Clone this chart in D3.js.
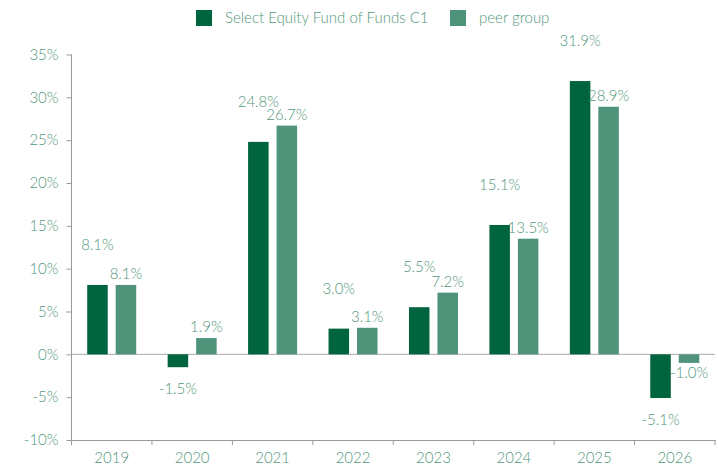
<!DOCTYPE html>
<html>
<head>
<meta charset="utf-8">
<script src="https://cdn.jsdelivr.net/npm/d3@7"></script>
<style>
  body { margin: 0; background: #fff; }
  text { font-family: Lato, "Open Sans", sans-serif; font-weight: 300; fill: #52977b; }
</style>
</head>
<body>
<div id="chart"></div>
<script>
var years = ["2019", "2020", "2021", "2022", "2023", "2024", "2025", "2026"];
var fund = [8.1, -1.5, 24.8, 3.0, 5.5, 15.1, 31.9, -5.1];
var peer = [8.1, 1.9, 26.7, 3.1, 7.2, 13.5, 28.9, -1.0];
var seriesNames = ["Select Equity Fund of Funds C1", "peer group"];
var yTicks = [-10, -5, 0, 5, 10, 15, 20, 25, 30, 35];

var colors = ["#00643f", "#4f937a"];

var margin = {top: 54.5, right: 3, bottom: 27, left: 71.5},
    width = 718 - margin.left - margin.right,
    height = 467 - margin.top - margin.bottom;

var svg = d3.select("#chart")
  .append("svg")
    .attr("width", 718)
    .attr("height", 467)
  .append("g")
    .attr("transform", "translate(" + margin.left + "," + margin.top + ")");

var x = d3.scaleBand()
  .domain(years)
  .range([0, width]);

var x1 = d3.scaleBand()
  .domain([0, 1])
  .range([x.bandwidth() / 2 - 24.5, x.bandwidth() / 2 + 24.5])
  .paddingInner(0.28);

var y = d3.scaleLinear()
  .domain([-10, 35])
  .range([height, 0]);

// y axis
var yAxis = svg.append("g")
  .call(d3.axisLeft(y).tickValues(yTicks).tickSize(5).tickPadding(8)
    .tickFormat(function(d) { return d + "%"; }));
yAxis.selectAll("line").attr("stroke", "#999");
yAxis.select(".domain").attr("stroke", "#999").attr("d", "M0," + height + "V0");
yAxis.selectAll("text").style("font-size", "15px").attr("fill", "#52977b");

// x axis
var xAxis = svg.append("g")
  .attr("transform", "translate(0," + height + ")")
  .call(d3.axisBottom(x).tickSize(0).tickPadding(12));
xAxis.select(".domain").attr("stroke", "#999");
xAxis.selectAll("text").style("font-size", "15px").attr("fill", "#52977b");
xAxis.selectAll(".sep")
  .data(years.concat(["end"]))
  .enter()
  .append("line")
    .attr("class", "sep")
    .attr("x1", function(d, i) { return i * x.step(); })
    .attr("x2", function(d, i) { return i * x.step(); })
    .attr("y1", 0)
    .attr("y2", 5)
    .attr("stroke", "#999");

// zero line
svg.append("line")
  .attr("x1", 0)
  .attr("x2", width)
  .attr("y1", y(0))
  .attr("y2", y(0))
  .attr("stroke", "#aaa");

var rows = [];
years.forEach(function(yr, i) {
  rows.push({year: yr, s: 0, v: fund[i]});
  rows.push({year: yr, s: 1, v: peer[i]});
});

svg.selectAll("rect.bar")
  .data(rows)
  .enter()
  .append("rect")
    .attr("class", "bar")
    .attr("x", function(d) { return x(d.year) + x1(d.s); })
    .attr("width", x1.bandwidth())
    .attr("y", function(d) { return y(Math.max(0, d.v)); })
    .attr("height", function(d) { return Math.abs(y(d.v) - y(0)); })
    .attr("fill", function(d) { return colors[d.s]; });

svg.selectAll("text.lbl")
  .data(rows)
  .enter()
  .append("text")
    .attr("class", "lbl")
    .attr("x", function(d) { return x(d.year) + x1(d.s) + x1.bandwidth() / 2; })
    .attr("y", function(d) {
      if (d.v >= 0) return y(d.v) - (d.s == 0 ? 40 : 11);
      return y(d.v) + (d.s == 0 ? 22 : 10);
    })
    .attr("dy", "0.35em")
    .attr("text-anchor", "middle")
    .style("font-size", "15px")
    .text(function(d) { return d.v.toFixed(1) + "%"; });

// legend
var legend = d3.select("svg").append("g");
var legX = [196, 450];
seriesNames.forEach(function(name, i) {
  legend.append("rect")
    .attr("x", legX[i])
    .attr("y", 10)
    .attr("width", 16)
    .attr("height", 16)
    .attr("fill", colors[i]);
  legend.append("text")
    .attr("x", legX[i] + 29)
    .attr("y", 18)
    .attr("dy", "0.35em")
    .style("font-size", "15px")
    .text(name);
});
</script>
</body>
</html>
